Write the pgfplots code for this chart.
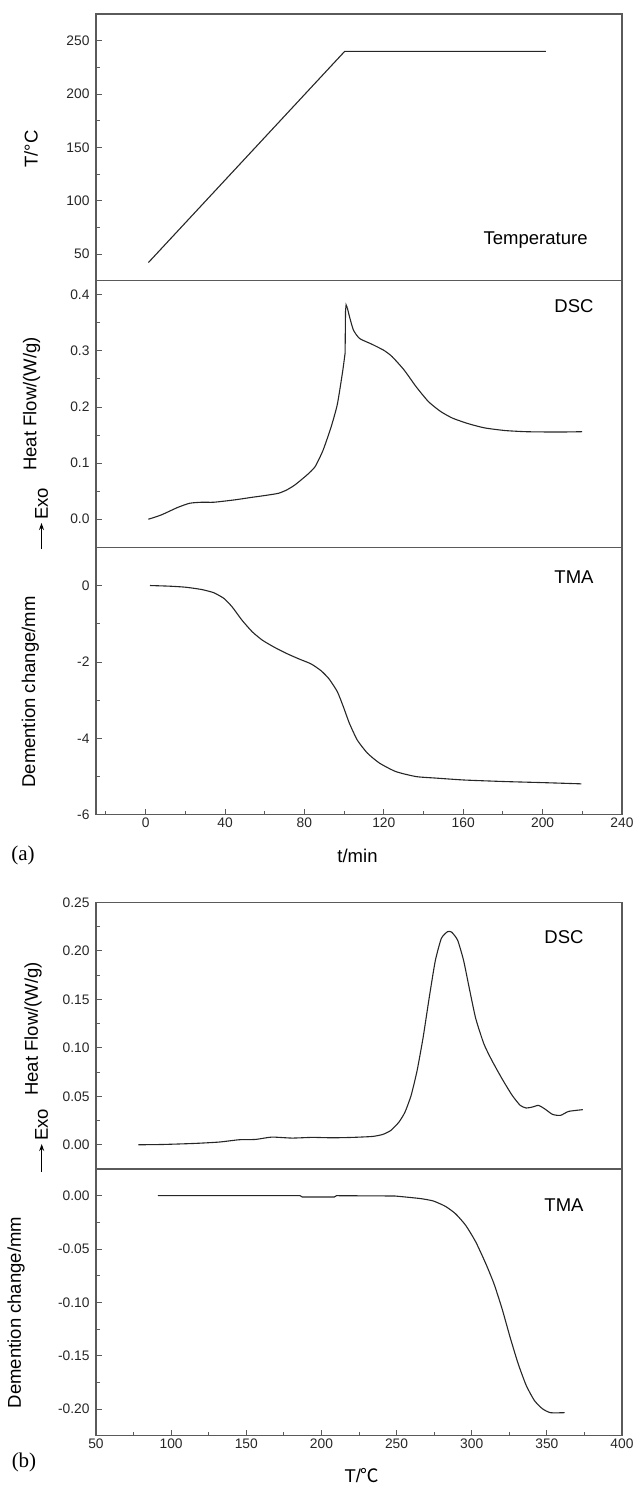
\documentclass[border=0pt]{standalone}
\usepackage{pgfplots}
\pgfplotsset{compat=1.18}
\usetikzlibrary{arrows.meta}
\usepackage{fontspec}
\setmainfont{Liberation Sans}
\newfontfamily\seriffont{Liberation Serif}
\newfontfamily\cjk{Noto Sans CJK SC}
\definecolor{axcol}{HTML}{5A5A5A}
\definecolor{curvecol}{HTML}{262626}
\pgfplotsset{
  base/.style={scale only axis, width=526pt, anchor=north west,
    axis line style={axcol, line width=1.1pt},
    every tick/.style={axcol, line width=0.9pt},
    tick align=inside, xtick pos=left, ytick pos=left,
    major tick length=6pt, minor tick length=3.5pt,
    tick label style={font=\fontsize{13.8}{15}\selectfont, text=black!85},
    yticklabel style={xshift=-3pt},
  },
  crv/.style={draw=curvecol, line width=1.1pt, mark=none, smooth, tension=0.35},
  panA/.style={base, xmin=-25, xmax=240},
  panB/.style={base, xmin=50, xmax=400},
}
\newcommand{\lab}{\fontsize{18.5}{22}\selectfont}
\begin{document}
\begin{tikzpicture}
\useasboundingbox (0,0) rectangle (634pt,-1485pt);
% ---------- (a) Temperature ----------
\begin{axis}[panA, at={(96pt,-14pt)}, height=266.7pt, ymin=25, ymax=275,
  xtick=\empty, ytick={50,100,150,200,250}, yticklabels={50,100,150,200,250},
  minor ytick={75,125,175,225}]
\addplot[crv, sharp plot] coordinates {(1.4,42) (100.3,240) (201.6,240)};
\end{axis}
% ---------- (a) DSC ----------
\begin{axis}[panA, at={(96pt,-280.7pt)}, height=266.6pt, ymin=-0.05, ymax=0.425,
  xtick=\empty, ytick={0,0.1,0.2,0.3,0.4}, yticklabels={0.0,0.1,0.2,0.3,0.4},
  minor ytick={0.05,0.15,0.25,0.35}]
\addplot[crv] coordinates {
(1.4,0) (7.9,0.0077) (16.0,0.0208) (22.2,0.0285) (28.3,0.0303) (34.4,0.0303)
(44.6,0.0344) (52.7,0.0386) (60.9,0.0427) (67.0,0.0463) (71.1,0.0522) (75.2,0.0611)
(81.3,0.0789) (85.4,0.0938) (89.4,0.123) (93.5,0.165) (96.6,0.205) (99.2,0.262)
(100.5,0.296)};
\addplot[crv, sharp plot] coordinates {(100.5,0.296) (100.7,0.370) (101.0,0.382) (101.6,0.377)};
\addplot[crv] coordinates {
(101.6,0.377) (102.7,0.361) (104.7,0.337)
(107.8,0.322) (113.9,0.312) (120.0,0.301) (124.1,0.290) (130.2,0.266) (136.3,0.236)
(142.5,0.2095) (148.6,0.192) (154.7,0.180) (162.8,0.170) (171,0.1626) (181.2,0.158)
(191.4,0.156) (201.6,0.1555) (211.7,0.1555) (219.9,0.156)};
\end{axis}
% ---------- (a) TMA ----------
\begin{axis}[panA, at={(96pt,-547.3pt)}, height=267.5pt, ymin=-6, ymax=1,
  xtick={0,40,80,120,160,200,240}, xticklabels={0,40,80,120,160,200,240},
  minor xtick={-20,20,60,100,140,180,220},
  ytick={-6,-4,-2,0}, yticklabels={-6,-4,-2,0}, minor ytick={-5,-3,-1}]
\addplot[crv] coordinates {
(2.2,0) (12.0,-0.017) (20.1,-0.044) (28.3,-0.105) (34.4,-0.19) (39.5,-0.34)
(43.6,-0.56) (48.6,-0.91) (53.7,-1.21) (58.8,-1.43) (65.0,-1.62) (71.1,-1.78)
(77.2,-1.92) (83.3,-2.05) (88.4,-2.23) (92.5,-2.45) (96.6,-2.78) (99.6,-3.17)
(102.7,-3.61) (106.7,-4.05) (111.8,-4.39) (117.9,-4.65) (126.1,-4.87) (136.3,-5.0)
(146.5,-5.04) (160.7,-5.09) (181.1,-5.13) (201.6,-5.16) (219.5,-5.19)};
\end{axis}
% ---------- (b) DSC ----------
\begin{axis}[panB, at={(96pt,-902.3pt)}, height=266.7pt, ymin=-0.025, ymax=0.25,
  xtick=\empty, ytick={0,0.05,0.1,0.15,0.2,0.25},
  yticklabels={0.00,0.05,0.10,0.15,0.20,0.25},
  minor ytick={0.025,0.075,0.125,0.175,0.225}]
\addplot[crv] coordinates {
(78.2,0) (94.4,0.0003) (115.9,0.0014) (132,0.0028) (145.4,0.0052) (156.2,0.0055)
(166.9,0.0079) (180.4,0.0069) (193.8,0.0076) (207.3,0.0072) (220.7,0.0076)
(234.1,0.0086) (240.9,0.0107) (246.2,0.0148) (251.6,0.0234) (255.6,0.0337)
(259.7,0.051) (263.7,0.0768) (267.7,0.111) (271.8,0.1525) (275.8,0.190)
(279.8,0.2128) (283.9,0.2197) (286.6,0.2193) (290.6,0.211) (294.6,0.190)
(298.7,0.159) (302.7,0.130) (308.1,0.104) (313.4,0.087) (320.2,0.068)
(326.9,0.051) (332.3,0.0406) (336.3,0.0379) (340.3,0.0389) (344.4,0.0406)
(348.4,0.0372) (353.8,0.0313) (359.1,0.0303) (364.5,0.0344) (373.9,0.0362)};
\end{axis}
% ---------- (b) TMA ----------
\begin{axis}[panB, at={(96pt,-1169pt)}, height=266.7pt, ymin=-0.225, ymax=0.025,
  xtick={50,100,150,200,250,300,350,400}, xticklabels={50,100,150,200,250,300,350,400},
  minor xtick={75,125,175,225,275,325,375},
  ytick={-0.2,-0.15,-0.1,-0.05,0}, yticklabels={-0.20,-0.15,-0.10,-0.05,0.00},
  minor ytick={-0.175,-0.125,-0.075,-0.025}]
\addplot[crv, sharp plot] coordinates {
(91.1,0) (185.8,0) (187.2,-0.0012) (208.6,-0.0012) (210,0) (248.9,-0.0003)};
\addplot[crv] coordinates {(248.9,-0.0003)
(255.6,-0.0012) (266.4,-0.0028) (274.5,-0.005) (282.5,-0.010) (289.2,-0.0169)
(296,-0.0278) (302.7,-0.0434) (309.4,-0.0638) (314.8,-0.0825) (320.2,-0.106)
(325.5,-0.1325) (330.9,-0.1575) (336.3,-0.178) (341.7,-0.192) (347,-0.1997)
(352.4,-0.2034) (361.8,-0.2034)};
\end{axis}
% ---------- annotations ----------
\node[font=\lab] at (535.6pt,-240pt) {Temperature};
\node[font=\lab] at (574pt,-306pt) {DSC};
\node[font=\lab] at (574pt,-577pt) {TMA};
\node[font=\lab] at (564pt,-937pt) {DSC};
\node[font=\lab] at (564pt,-1205pt) {TMA};
% axis labels
\node[font=\lab, rotate=90] at (31pt,-149pt) {T/°C};
\node[font=\lab, rotate=90] at (31.5pt,-404pt) {Heat Flow/(W/g)};
\node[font=\lab, rotate=90] at (41.5pt,-504pt) {Exo};
\draw[-{Stealth[length=7pt,width=5pt]}, line width=1.1pt] (41.5pt,-549pt) -- (41.5pt,-523pt);
\node[font=\lab, rotate=90] at (30.3pt,-692pt) {Demention change/mm};
\node[font=\lab] at (357.5pt,-856pt) {t/min};
\node[font=\fontsize{21}{24}\seriffont] at (23pt,-855pt) {(a)};
\node[font=\lab, rotate=90] at (33pt,-1029pt) {Heat Flow/(W/g)};
\node[font=\lab, rotate=90] at (41.7pt,-1125pt) {Exo};
\draw[-{Stealth[length=7pt,width=5pt]}, line width=1.1pt] (41.7pt,-1172pt) -- (41.7pt,-1144pt);
\node[font=\lab, rotate=90] at (16pt,-1312.5pt) {Demention change/mm};
\node[font=\lab] at (362pt,-1476pt) {T/{\cjk ℃}};
\node[font=\fontsize{21}{24}\seriffont] at (24pt,-1462pt) {(b)};
\end{tikzpicture}
\end{document}
